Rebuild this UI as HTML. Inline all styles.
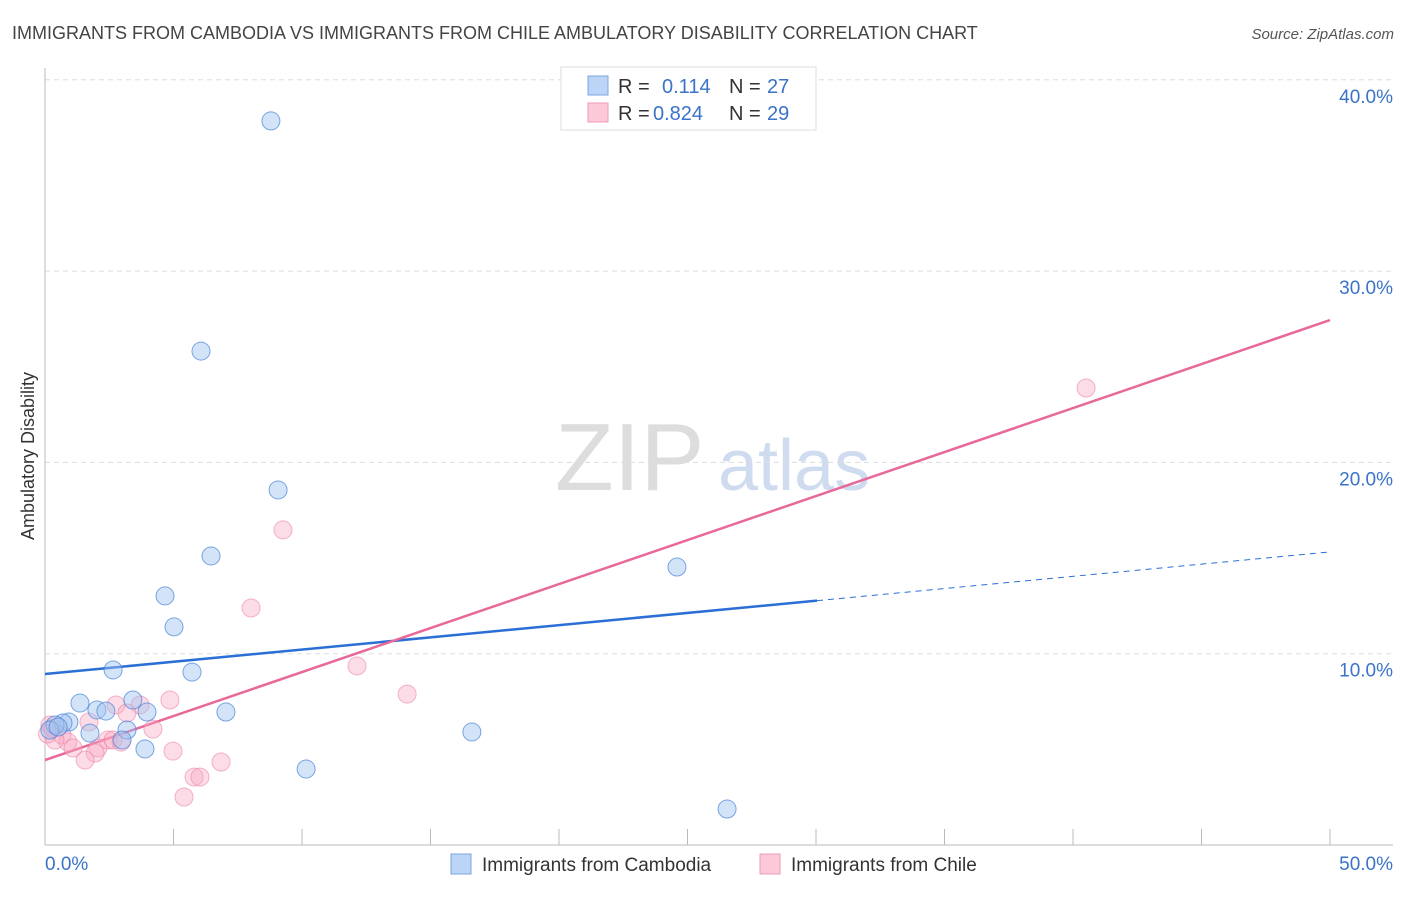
<!DOCTYPE html>
<html><head><meta charset="utf-8"><style>
body{margin:0;background:#fff;font-family:"Liberation Sans",sans-serif;}
svg text{font-family:"Liberation Sans",sans-serif;}
</style></head><body>
<svg id="chart" width="1406" height="892" xmlns="http://www.w3.org/2000/svg">
<text x="12" y="39" font-size="18" fill="#444">IMMIGRANTS FROM CAMBODIA VS IMMIGRANTS FROM CHILE AMBULATORY DISABILITY CORRELATION CHART</text>
<text x="1394" y="39" font-size="15" fill="#555" text-anchor="end" font-style="italic">Source: ZipAtlas.com</text>
<text x="555" y="490" font-size="96" fill="#ddd" font-family="Liberation Serif">ZIP</text>
<text x="718" y="490" font-size="72" fill="#cfdcf0">atlas</text>
<text transform="translate(34,456) rotate(-90)" font-size="18" fill="#333" text-anchor="middle">Ambulatory Disability</text>
<g id="grid"></g><g id="axes"></g><g id="lines"></g><g id="dots"></g>
<g>
<rect x="561" y="67" width="255" height="63" fill="#fff" stroke="#ddd"/>
<rect x="588" y="76" width="20" height="19" fill="#bcd4f5" stroke="#7aa6e0"/>
<rect x="588" y="103" width="20" height="19" fill="#fbc9d8" stroke="#f09ab4"/>
<text x="618" y="93" font-size="20" fill="#333">R = </text><text x="662" y="93" font-size="20" fill="#3a73c8">0.114</text>
<text x="729" y="93" font-size="20" fill="#333">N = </text><text x="767" y="93" font-size="20" fill="#3a73c8">27</text>
<text x="618" y="120" font-size="20" fill="#333">R = </text><text x="653" y="120" font-size="20" fill="#3a73c8">0.824</text>
<text x="729" y="120" font-size="20" fill="#333">N = </text><text x="767" y="120" font-size="20" fill="#3a73c8">29</text>
</g>
<g>
<rect x="451" y="854" width="20" height="20" fill="#bcd4f5" stroke="#7aa6e0"/>
<text x="482" y="871" font-size="19" fill="#333">Immigrants from Cambodia</text>
<rect x="760" y="854" width="20" height="20" fill="#fbc9d8" stroke="#f09ab4"/>
<text x="791" y="871" font-size="19" fill="#333">Immigrants from Chile</text>
</g>
</svg>
<script>
const cambodiaX=[8.79,6.07,9.07,6.46,4.67,24.59,5.02,2.65,5.72,1.36,3.42,2.02,2.37,3.97,7.04,0.93,0.70,0.39,1.75,3.19,3.00,3.89,16.61,10.16,26.54,0.19,0.51];
const cambodiaY=[37.85,25.82,18.56,15.11,13.02,14.53,11.40,9.15,9.04,7.42,7.58,7.06,7.00,6.95,6.95,6.43,6.38,6.27,5.85,6.01,5.49,5.02,5.91,3.97,1.88,6.01,6.17];
const chileX=[40.51,9.26,8.02,12.14,14.09,4.86,3.70,2.76,3.19,1.71,4.20,0.19,0.66,0.89,1.09,2.06,2.45,2.65,2.96,1.95,1.56,4.98,6.85,5.80,6.03,5.41,0.39,0.10,0.30];
const chileY=[23.89,16.47,12.39,9.36,7.89,7.58,7.32,7.32,6.90,6.43,6.06,6.27,5.75,5.38,5.07,5.07,5.49,5.49,5.38,4.81,4.44,4.91,4.34,3.55,3.55,2.51,5.49,5.80,6.10];
const blueTrend=[8.94,15.32];const blueSolidEnd=30.04;
const pinkTrend=[4.44,27.44];
const yTicks=[10,20,30,40];const yTickLabels=["10.0%","20.0%","30.0%","40.0%"];
const xTickLabels=["0.0%","50.0%"];
const NS="http://www.w3.org/2000/svg";
const sx=v=>45+v*25.7, sy=v=>845-v*19.13;
function mk(tag,attrs,parent){const e=document.createElementNS(NS,tag);for(const k in attrs)e.setAttribute(k,attrs[k]);document.getElementById(parent).appendChild(e);return e;}
yTicks.forEach((t,i)=>{
 const g=mk('line',{x1:45,x2:1393,y1:sy(t),y2:sy(t),stroke:'#ddd','stroke-dasharray':'5,4'},'grid');
 
 
 const l=mk('text',{x:1393,y:sy(t)+23,'font-size':19,fill:'#3a73c8','text-anchor':'end'},'axes');l.textContent=yTickLabels[i];
 
 
});
mk('line',{x1:45,x2:45,y1:68,y2:845,stroke:'#bbb'},'axes');
mk('line',{x1:45,x2:1393,y1:845,y2:845,stroke:'#bbb'},'axes');
for(let i=1;i<=10;i++){const t=mk('line',{x1:sx(i*5),x2:sx(i*5),y1:829,y2:845,stroke:'#bbb'},'axes');
 
 }
const xl0=mk('text',{x:45,y:870,'font-size':19,fill:'#3a73c8'},'axes');xl0.textContent=xTickLabels[0];


const xl1=mk('text',{x:1393,y:870,'font-size':19,fill:'#3a73c8','text-anchor':'end'},'axes');xl1.textContent=xTickLabels[1];


const bAt=x=>blueTrend[0]+(blueTrend[1]-blueTrend[0])*x/50;
const pAt=x=>pinkTrend[0]+(pinkTrend[1]-pinkTrend[0])*x/50;
for(let i=0;i<chileX.length;i++){const c=mk('circle',{cx:sx(chileX[i]),cy:sy(chileY[i]),r:9,fill:'rgba(248,170,195,0.4)',stroke:'rgba(236,130,165,0.6)'},'dots');
 
 }
for(let i=0;i<cambodiaX.length;i++){const c=mk('circle',{cx:sx(cambodiaX[i]),cy:sy(cambodiaY[i]),r:9,fill:'rgba(160,195,240,0.45)',stroke:'rgba(70,130,215,0.7)'},'dots');
 
 }
const b1=mk('line',{x1:sx(0),y1:sy(bAt(0)),x2:sx(blueSolidEnd),y2:sy(bAt(blueSolidEnd)),stroke:'#2b6fd6','stroke-width':2.5},'lines');


const b2=mk('line',{x1:sx(blueSolidEnd),y1:sy(bAt(blueSolidEnd)),x2:sx(50),y2:sy(bAt(50)),stroke:'#2b6fd6','stroke-width':1,'stroke-dasharray':'6,5'},'lines');


const p1=mk('line',{x1:sx(0),y1:sy(pAt(0)),x2:sx(50),y2:sy(pAt(50)),stroke:'#e8689a','stroke-width':2.5},'lines');


</script>
</body></html>
